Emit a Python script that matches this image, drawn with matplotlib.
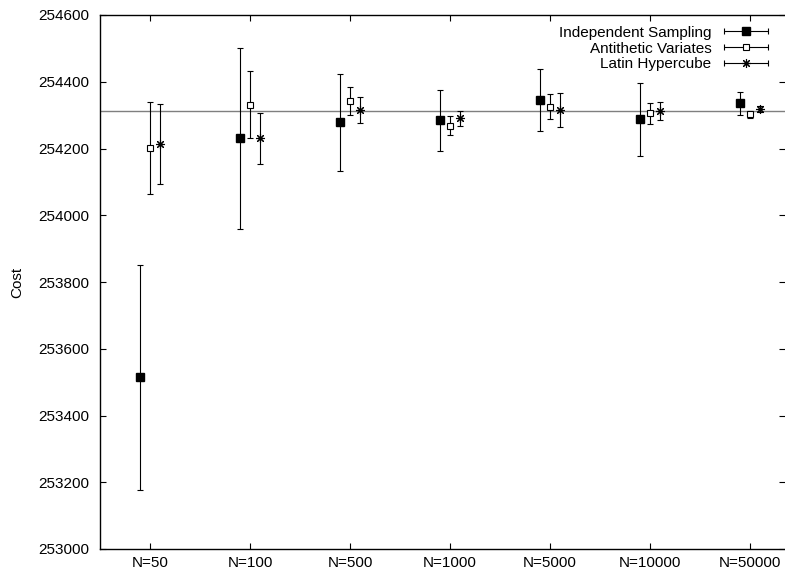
import numpy as np
import matplotlib
matplotlib.use("Agg")
import matplotlib.pyplot as plt
from matplotlib.container import ErrorbarContainer
from matplotlib.legend_handler import HandlerErrorbar

# ---------- DATA ----------
categories = ["N=50", "N=100", "N=500", "N=1000", "N=5000", "N=10000", "N=50000"]

indep_mean = [253515, 254230, 254278, 254284, 254345, 254287, 254335]
indep_err  = [337, 272, 145, 91, 92, 108, 35]

anti_mean = [254202, 254331, 254341, 254268, 254325, 254305, 254302]
anti_err  = [137, 101, 42, 28, 37, 31, 10]

latin_mean = [254214, 254230, 254315, 254290, 254315, 254312, 254318]
latin_err  = [119, 75, 40, 23, 52, 27, 9]

reference_cost = 254313
# --------------------------

plt.rcParams["font.family"] = ["Liberation Sans", "DejaVu Sans"]
plt.rcParams["font.size"] = 11

fig = plt.figure(figsize=(7.85, 5.71), dpi=100)
ax = fig.add_axes([100 / 785, 22 / 571, 685 / 785, 534 / 571])

x = np.arange(len(categories))
off = 0.1
common = dict(linestyle="none", color="black", ecolor="black",
              elinewidth=0.8, capsize=2.5, capthick=0.8, zorder=3)

ax.axhline(reference_cost, color="#7f7f7f", linewidth=1.0, zorder=2)

eb1 = ax.errorbar(x - off, indep_mean, yerr=indep_err, marker="s", markersize=6,
                  markerfacecolor="black", markeredgecolor="black", **common)
eb2 = ax.errorbar(x, anti_mean, yerr=anti_err, marker="s", markersize=5,
                  markerfacecolor="white", markeredgecolor="black",
                  markeredgewidth=0.8, **common)
eb3 = ax.errorbar(x + off, latin_mean, yerr=latin_err, marker=(8, 2, 0), markersize=6.5,
                  markeredgecolor="black", markeredgewidth=0.8, **common)

# legend shows horizontal bars like gnuplot
handles = [ErrorbarContainer(tuple(eb), has_xerr=True, has_yerr=False)
           for eb in (eb1, eb2, eb3)]
labels = ["Independent Sampling", "Antithetic Variates", "Latin Hypercube"]
ax.legend(handles, labels, loc="upper right", bbox_to_anchor=(0.975, 0.98),
          frameon=False, markerfirst=False, borderpad=0, borderaxespad=0,
          handlelength=2.9, handletextpad=0.8, labelspacing=0.12,
          handler_map={ErrorbarContainer: HandlerErrorbar(xerr_size=1.45)})

ax.set_xlim(-0.5, 6.35)
ax.set_ylim(253000, 254600)
ax.set_xticks(x)
ax.set_xticklabels(categories)
ax.set_yticks(np.arange(253000, 254601, 200))
ax.set_ylabel("Cost", labelpad=10)

ax.tick_params(direction="in", length=4, width=0.8, top=True, right=True,
               colors="black", labelsize=11)
ax.tick_params(axis="y", pad=8)
ax.tick_params(axis="x", pad=5)
for s in ["left", "bottom", "top"]:
    ax.spines[s].set_linewidth(1.0)
ax.spines["right"].set_visible(False)

fig.savefig("out.png", dpi=100)
